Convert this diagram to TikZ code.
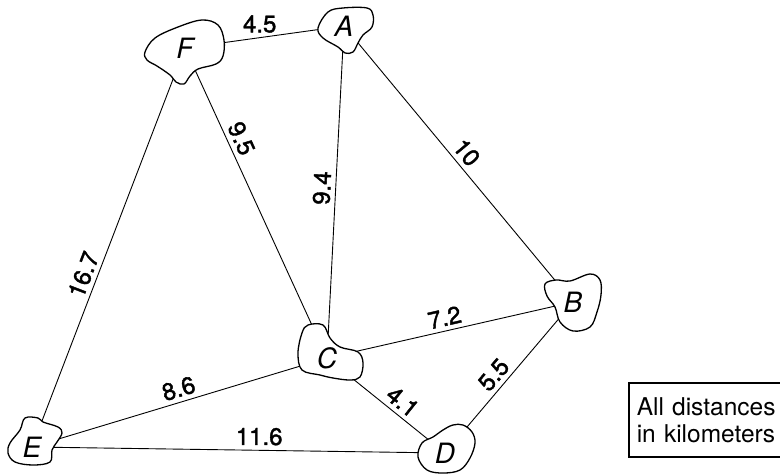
\documentclass[tikz,border=0pt]{standalone}
\usepackage{fontspec}
\setmainfont{TeX Gyre Heros}
\newfontfamily\lblfont[FakeBold=1.6]{TeX Gyre Heros}
\usetikzlibrary{backgrounds}
\begin{document}
\begin{tikzpicture}[x=1pt,y=-1pt,
  blob/.style={draw, line width=1.3pt, fill=white, line join=round},
  place/.style={font=\fontsize{28}{30}\selectfont\itshape, inner sep=0pt},
  edge/.style={line width=0.9pt},
  lbl/.style={font=\lblfont\fontsize{24}{28}\selectfont, sloped, above, inner sep=4.5pt},
  lblh/.style={font=\lblfont\fontsize{24}{28}\selectfont, above, inner sep=4.5pt}]
\useasboundingbox (0,0) rectangle (780,474);
% blobs
\draw[blob] plot[smooth cycle, tension=0.6] coordinates {(145,52) (155,38) (178,27) (202,20) (218,25) (224,40) (223,56) (216,64) (198,69) (190,76) (184,84) (176,82) (170,75) (157,66) (147,60)};
\draw[blob] plot[smooth cycle, tension=0.6] coordinates {(318,28) (328,12) (343,8) (367,8) (373,15) (372,27) (363,35) (358,43) (353,52) (345,53) (338,47) (323,38)};
\draw[blob] plot[smooth cycle, tension=0.6] coordinates {(545,284) (556,280) (570,281) (590,274) (600,280) (601,295) (597,312) (590,327) (573,331) (560,322) (555,307) (547,296)};
\draw[blob] plot[smooth cycle, tension=0.6] coordinates {(308,325) (323,325) (330,338) (340,347) (358,352) (363,363) (360,377) (350,380) (333,378) (320,375) (302,370) (298,353) (302,333)};
\draw[blob] plot[smooth cycle, tension=0.6] coordinates {(38,418) (25,418) (20,430) (10,443) (8,453) (15,462) (33,465) (50,462) (52,450) (57,442) (62,433) (58,427) (43,422)};
\draw[blob] plot[smooth cycle, tension=0.6] coordinates {(453,425) (463,425) (472,432) (475,443) (470,458) (460,470) (443,473) (427,470) (418,457) (422,443) (433,437) (443,430)};
% place names
\node[place] (F) at (185,48) {F};
\node[place] (A) at (344,26) {A};
\node[place] (B) at (573,302) {B};
\node[place] (C) at (327,358) {C};
\node[place] (E) at (32,447) {E};
\node[place] (D) at (445,453) {D};
% note box
\begin{scope}
\clip (0,0) rectangle (780,474);
\node[draw, line width=1.6pt, anchor=north west, minimum height=74pt, text width=220pt, align=left, inner xsep=8pt, font=\fontsize{24.5}{27}\selectfont] (note) at (628,382) {All distances\\in kilometers};
\end{scope}
% connectors
\begin{pgfonlayer}{background}
\draw[edge] (F.center) -- node[lblh, pos=0.47] {4.5} (A.center);
\draw[edge] (F.center) -- node[lbl, pos=0.31] {9.5} (C.center);
\draw[edge] (F.center) -- node[lbl, pos=0.58] {16.7} (E.center);
\draw[edge] (A.center) -- node[lbl, pos=0.49] {9.4} (C.center);
\draw[edge] (A.center) -- node[lbl, pos=0.49] {10} (B.center);
\draw[edge] (C.center) -- node[lbl, pos=0.49] {7.2} (B.center);
\draw[edge] (C.center) -- node[lbl, pos=0.49] {8.6} (E.center);
\draw[edge] (C.center) -- node[lbl, pos=0.57] {4.1} (D.center);
\draw[edge] (B.center) -- node[lbl, pos=0.54] {5.5} (D.center);
\draw[edge] (E.center) -- node[lblh, pos=0.55] {11.6} (D.center);
\end{pgfonlayer}
\end{tikzpicture}
\end{document}
